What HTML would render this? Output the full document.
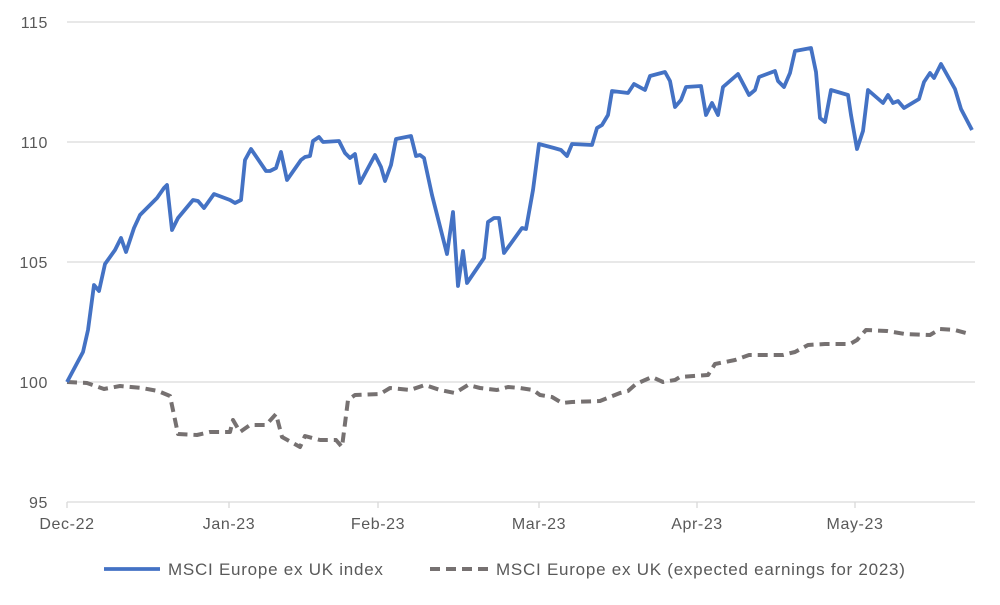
<!DOCTYPE html>
<html><head><meta charset="utf-8"><style>
body{margin:0;background:#fff;}
svg text{font-family:"Liberation Sans",sans-serif;fill:#595959;}
</style></head><body>
<svg width="1000" height="600" viewBox="0 0 1000 600" xmlns="http://www.w3.org/2000/svg">
<g stroke="#d9d9d9" stroke-width="1.3">
<line x1="67" y1="22" x2="975" y2="22"/>
<line x1="67" y1="142" x2="975" y2="142"/>
<line x1="67" y1="262" x2="975" y2="262"/>
<line x1="67" y1="382" x2="975" y2="382"/>
<line x1="67" y1="502" x2="975" y2="502"/>
<line x1="67" y1="502" x2="67" y2="508"/>
<line x1="229" y1="502" x2="229" y2="508"/>
<line x1="378" y1="502" x2="378" y2="508"/>
<line x1="539" y1="502" x2="539" y2="508"/>
<line x1="697" y1="502" x2="697" y2="508"/>
<line x1="855" y1="502" x2="855" y2="508"/>
</g>
<g font-size="16" text-anchor="end" letter-spacing="0.6">
<text x="48" y="28">115</text><text x="48" y="148">110</text><text x="48" y="268">105</text><text x="48" y="388">100</text><text x="48" y="508">95</text>
</g>
<g font-size="16" text-anchor="middle" letter-spacing="0.6">
<text x="67" y="529">Dec-22</text><text x="229" y="529">Jan-23</text><text x="378" y="529">Feb-23</text><text x="539" y="529">Mar-23</text><text x="697" y="529">Apr-23</text><text x="855" y="529">May-23</text>
</g>
<polyline fill="none" stroke="#767171" stroke-width="4" stroke-dasharray="10,6" stroke-linejoin="round" points="67,382 87,383 104,389 120,386 142,388 158,391 170,396 178,434 197,435 210,432 230,432 233,420 240,432 250,425 266,425 276,414 282,437 300,447 305,436 320,440 336,440 342,447 348,400 355,395 380,394 390,388 410,390 425,385 440,390 455,393 468,385 480,388 497,390 508,387 520,388 533,390 540,395 552,397 562,403 572,402 600,401 620,393 628,391 636,384 652,377 663,382 675,380 680,377 708,375 715,364 735,360 749,355 783,355 795,352 808,345 825,344 850,344 857,340 866,330 887,331 905,334 930,335 940,329 955,330 966,333"/>
<polyline fill="none" stroke="#4472c4" stroke-width="3.8" stroke-linejoin="round" points="67,382 83,352 88,330 94,285 99,291 105,264 115,250 121,238 126,252 134,228 140,215 157,198 164,188 167,185 172,230 178,218 193,200 198,201 204,208 214,194 230,200 235,203 241,200 245,160 251,149 266,171 270,171 276,168 281,152 287,180 301,160 305,157 310,156 313,141 319,137 323,142 339,141 345,153 350,158 355,154 360,183 375,155 381,167 385,181 391,165 396,139 411,136 416,156 420,155 424,158 432,195 447,254 453,212 458,286 463,251 467,283 484,258 488,222 494,218 499,218 504,253 522,228 526,229 533,190 539,144 554,148 561,150 567,156 572,144 592,145 597,128 602,125 608,115 612,91 628,93 634,84 645,90 650,76 665,72 670,81 675,107 681,100 686,87 701,86 706,115 712,103 718,115 723,87 738,74 749,95 755,90 759,77 775,71 778,81 784,87 790,73 795,51 811,48 816,72 820,118 825,122 831,90 848,95 851,115 857,149 863,131 868,90 883,103 888,95 893,103 898,101 904,108 919,99 924,82 930,73 934,78 941,64 955,89 961,109 972,130"/>
<line x1="104" y1="569" x2="160" y2="569" stroke="#4472c4" stroke-width="3.8"/>
<text x="168" y="575" font-size="17" letter-spacing="0.75">MSCI Europe ex UK index</text>
<line x1="430" y1="569" x2="488" y2="569" stroke="#767171" stroke-width="4" stroke-dasharray="10,6"/>
<text x="496" y="575" font-size="17" letter-spacing="0.75">MSCI Europe ex UK (expected earnings for 2023)</text>
</svg>
</body></html>
